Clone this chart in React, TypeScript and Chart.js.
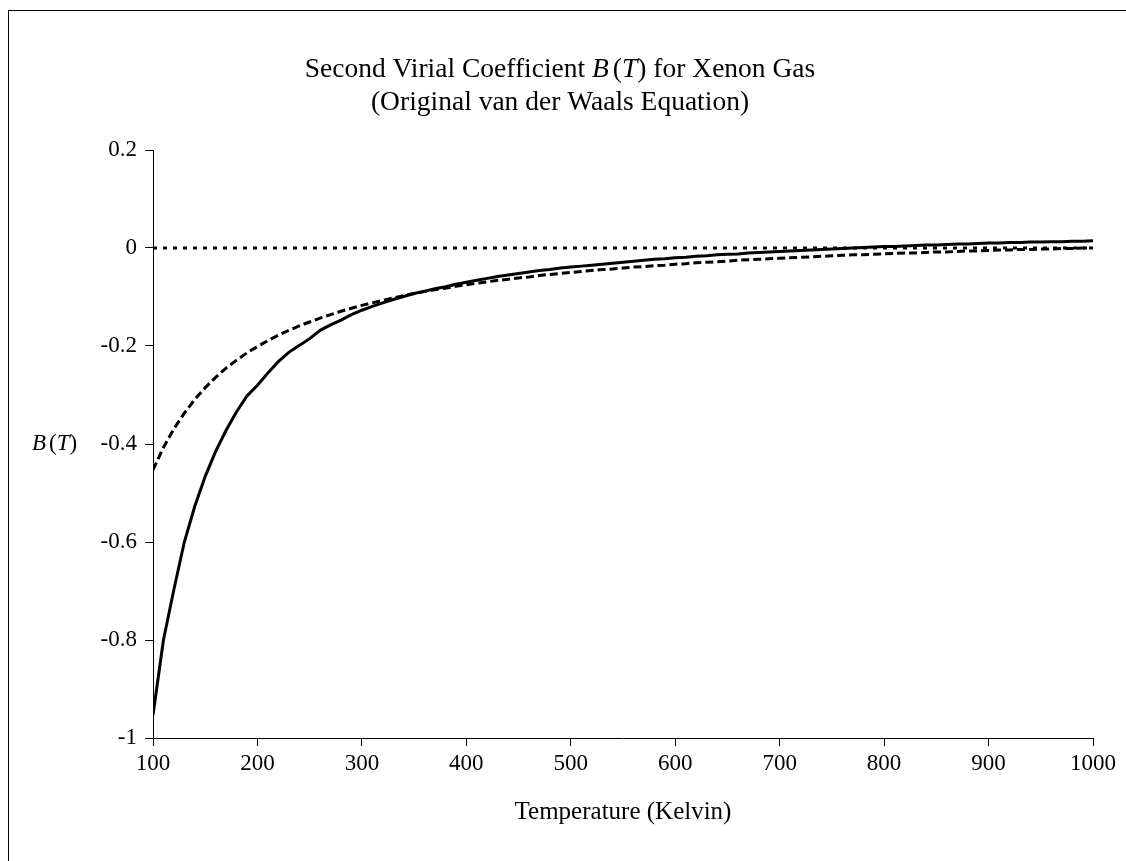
import React, { useEffect, useRef } from "react";
import { Chart, registerables } from "chart.js";

Chart.register(...registerables);

const temperatures: number[] = [
  100, 110, 120, 130, 140, 150, 160, 170, 180, 190,
  200, 210, 220, 230, 240, 250, 260, 270, 280, 290,
  300, 310, 320, 330, 340, 350, 360, 370, 380, 390,
  400, 410, 420, 430, 440, 450, 460, 470, 480, 490,
  500, 510, 520, 530, 540, 550, 560, 570, 580, 590,
  600, 610, 620, 630, 640, 650, 660, 670, 680, 690,
  700, 710, 720, 730, 740, 750, 760, 770, 780, 790,
  800, 810, 820, 830, 840, 850, 860, 870, 880, 890,
  900, 910, 920, 930, 940, 950, 960, 970, 980, 990,
  1000,
];

const solidSeries: number[] = [
  -0.953, -0.8, -0.697, -0.6, -0.527, -0.466, -0.415, -0.372, -0.334, -0.302,
  -0.28, -0.255, -0.232, -0.213, -0.199, -0.185, -0.168, -0.157, -0.147, -0.136,
  -0.127, -0.119, -0.112, -0.105, -0.099, -0.093, -0.088, -0.083, -0.079, -0.074,
  -0.07, -0.066, -0.062, -0.058, -0.055, -0.052, -0.049, -0.046, -0.044, -0.041,
  -0.039, -0.037, -0.035, -0.033, -0.031, -0.029, -0.027, -0.025, -0.023, -0.022,
  -0.02, -0.019, -0.017, -0.016, -0.014, -0.013, -0.012, -0.01, -0.009, -0.008,
  -0.007, -0.006, -0.005, -0.004, -0.003, -0.002, -0.001, 0.0, 0.001, 0.002,
  0.003, 0.003, 0.004, 0.005, 0.006, 0.006, 0.007, 0.008, 0.008, 0.009,
  0.01, 0.01, 0.011, 0.011, 0.012, 0.012, 0.013, 0.013, 0.014, 0.014,
  0.015,
];

const dashedSeries: number[] = [
  -0.453, -0.407, -0.369, -0.337, -0.309, -0.285, -0.264, -0.245, -0.229, -0.214,
  -0.201, -0.189, -0.178, -0.168, -0.159, -0.151, -0.143, -0.136, -0.129, -0.123,
  -0.117, -0.112, -0.107, -0.102, -0.097, -0.093, -0.089, -0.085, -0.082, -0.078,
  -0.075, -0.072, -0.069, -0.066, -0.064, -0.061, -0.059, -0.056, -0.054, -0.052,
  -0.05, -0.048, -0.046, -0.044, -0.043, -0.041, -0.039, -0.038, -0.036, -0.035,
  -0.033, -0.032, -0.03, -0.029, -0.028, -0.027, -0.025, -0.024, -0.023, -0.022,
  -0.021, -0.02, -0.019, -0.018, -0.017, -0.016, -0.015, -0.014, -0.014, -0.013,
  -0.012, -0.011, -0.01, -0.01, -0.009, -0.008, -0.008, -0.007, -0.006, -0.006,
  -0.005, -0.004, -0.004, -0.003, -0.003, -0.002, -0.002, -0.001, -0.001, 0.0,
  0.0,
];

const zeroLine: number[] = [0, 0];
const zeroLineTemps: number[] = [100, 1000];

const xTickValues: number[] = [100, 200, 300, 400, 500, 600, 700, 800, 900, 1000];
const yTickValues: number[] = [0.2, 0, -0.2, -0.4, -0.6, -0.8, -1];

type Seg = { t: string; italic?: boolean; gap?: number };

const titleLine1: Seg[] = [
  { t: "Second Virial Coefficient " },
  { t: "B", italic: true, gap: 4 },
  { t: "(" },
  { t: "T", italic: true },
  { t: ")" },
  { t: " for Xenon Gas" },
];
const titleLine2: Seg[] = [{ t: "(Original van der Waals Equation)" }];
const yLabel: Seg[] = [
  { t: "B", italic: true, gap: 3 },
  { t: "(" },
  { t: "T", italic: true },
  { t: ")" },
];
const xLabel: Seg[] = [{ t: "Temperature (Kelvin)" }];

const FONT = "'Liberation Serif', 'Times New Roman', serif";

function drawRich(
  ctx: CanvasRenderingContext2D,
  segs: Seg[],
  x: number,
  y: number,
  size: number,
  align: "center" | "left"
) {
  const fontFor = (s: Seg) => `${s.italic ? "italic " : ""}${size}px ${FONT}`;
  let total = 0;
  const widths = segs.map((s) => {
    ctx.font = fontFor(s);
    const w = ctx.measureText(s.t).width + (s.gap || 0);
    total += w;
    return w;
  });
  let cx = align === "center" ? x - total / 2 : x;
  ctx.textAlign = "left";
  ctx.textBaseline = "middle";
  segs.forEach((s, i) => {
    ctx.font = fontFor(s);
    ctx.fillText(s.t, cx, y);
    cx += widths[i];
  });
}

const textPlugin = {
  id: "richTexts",
  afterDraw(chart: any) {
    const ctx: CanvasRenderingContext2D = chart.ctx;
    const ys = chart.scales.y;
    const area = chart.chartArea;
    ctx.save();
    ctx.fillStyle = "#000";
    drawRich(ctx, titleLine1, 560, 70, 27.5, "center");
    drawRich(ctx, titleLine2, 560, 103, 27.5, "center");
    drawRich(ctx, yLabel, 32, ys.getPixelForValue(-0.4), 23, "left");
    drawRich(ctx, xLabel, (area.left + area.right) / 2, 812, 25, "center");
    ctx.restore();
  },
};

export default function App() {
  const canvasRef = useRef<HTMLCanvasElement | null>(null);

  useEffect(() => {
    if (!canvasRef.current) return;
    const chart = new Chart(canvasRef.current, {
      type: "line",
      data: {
        datasets: [
          {
            label: "zero",
            data: zeroLineTemps.map((t, i) => ({ x: t, y: zeroLine[i] })),
            borderColor: "#000",
            borderWidth: 3,
            borderDash: [4, 6],
            pointRadius: 0,
            fill: false,
          },
          {
            label: "B(T) solid",
            data: temperatures.map((t, i) => ({ x: t, y: solidSeries[i] })),
            borderColor: "#000",
            borderWidth: 3,
            pointRadius: 0,
            fill: false,
          },
          {
            label: "B(T) dashed",
            data: temperatures.map((t, i) => ({ x: t, y: dashedSeries[i] })),
            borderColor: "#000",
            borderWidth: 3,
            borderDash: [8, 4],
            pointRadius: 0,
            fill: false,
          },
        ],
      },
      options: {
        responsive: false,
        animation: false,
        devicePixelRatio: 1,
        layout: { padding: { left: 0, right: 33, top: 150, bottom: 0 } },
        plugins: {
          legend: { display: false },
          title: { display: false },
          tooltip: { enabled: false },
        },
        scales: {
          x: {
            type: "linear",
            min: 100,
            max: 1000,
            afterFit: (s: any) => {
              s.height = 123;
            },
            afterBuildTicks: (s: any) => {
              s.ticks = xTickValues.map((v) => ({ value: v }));
            },
            grid: {
              display: true,
              drawOnChartArea: false,
              drawTicks: true,
              tickLength: 8,
              color: "#000",
            },
            border: { display: true, color: "#000", width: 1 },
            ticks: {
              color: "#000",
              font: { family: FONT, size: 23 },
              padding: 4,
              maxRotation: 0,
              autoSkip: false,
              callback: (v: any) => String(v),
            },
          },
          y: {
            type: "linear",
            min: -1,
            max: 0.2,
            afterFit: (s: any) => {
              s.width = 153;
            },
            afterBuildTicks: (s: any) => {
              s.ticks = yTickValues.map((v) => ({ value: v }));
            },
            grid: {
              display: true,
              drawOnChartArea: false,
              drawTicks: true,
              tickLength: 8,
              color: "#000",
            },
            border: { display: true, color: "#000", width: 1 },
            ticks: {
              color: "#000",
              font: { family: FONT, size: 23 },
              padding: 8,
              autoSkip: false,
              callback: (v: any) => String(Math.round(Number(v) * 10) / 10),
            },
          },
        },
      },
      plugins: [textPlugin],
    });
    return () => chart.destroy();
  }, []);

  return (
    <div
      style={{
        position: "fixed",
        left: 0,
        top: 0,
        width: 1126,
        height: 861,
        overflow: "hidden",
        background: "#fff",
      }}
    >
      <div
        style={{
          position: "absolute",
          left: 8,
          top: 10,
          width: 1140,
          height: 880,
          border: "1px solid #000",
          boxSizing: "border-box",
        }}
      />
      <canvas
        ref={canvasRef}
        width={1126}
        height={861}
        style={{ position: "absolute", left: 0, top: 0, width: 1126, height: 861 }}
      />
    </div>
  );
}
